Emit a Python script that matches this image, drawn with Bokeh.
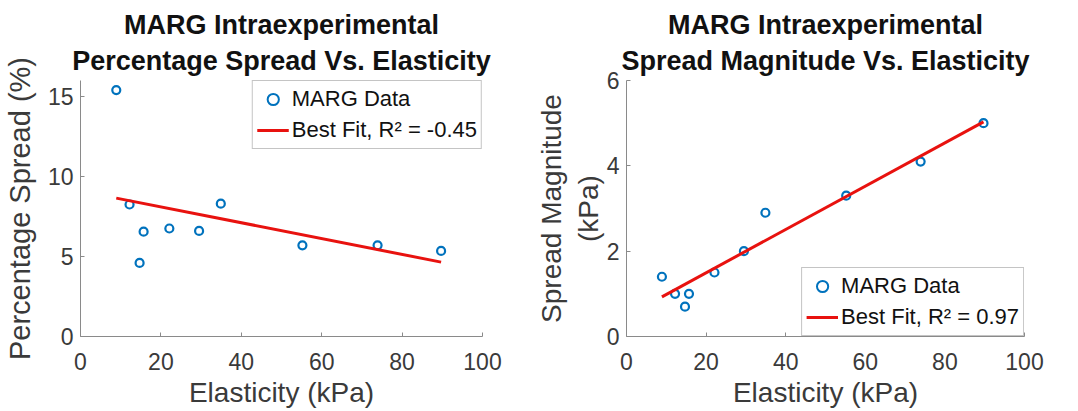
from bokeh.plotting import figure
from bokeh.layouts import row
from bokeh.models import Range1d, FixedTicker, Legend, LegendItem, Title
from bokeh.embed import file_html
from bokeh.resources import INLINE

# Data
elasticity = [8.9, 12.2, 14.7, 15.7, 22.1, 29.5, 34.9, 55.2, 73.9, 89.7]
pct_spread = [15.4, 8.25, 4.6, 6.55, 6.75, 6.6, 8.3, 5.7, 5.7, 5.35]
spread_mag = [1.4, 1.0, 0.7, 1.0, 1.5, 2.0, 2.9, 3.3, 4.1, 5.0]

fit1_x = [8.9, 89.7]
fit1_y = [8.65, 4.65]
fit2_x = [8.9, 89.7]
fit2_y = [0.93, 5.03]

x_ticks = [0, 20, 40, 60, 80, 100]
y1_ticks = [0, 5, 10, 15]
y2_ticks = [0, 2, 4, 6]

FONT = "Liberation Sans"
AXIS_COL = "#8a8a8a"
TEXT_COL = "#3a3a3a"
BLUE = "#0072BD"
RED = "#E8120F"
NAN = float("nan")


def make_fig(title1, title2, ylabel, yticks, yend, width, left, right, leg_loc,
             xs, ys, fx, fy, fit_label, ylab_standoff, ylab_size):
    p = figure(width=width, height=410, output_backend="svg",
               toolbar_location=None,
               x_range=Range1d(0, 100), y_range=Range1d(0, yend),
               min_border_left=left, min_border_right=right,
               min_border_top=80, min_border_bottom=70)
    for txt, so in ((title2, 9), (title1, 0)):
        t = Title(text=txt, align="center", text_font=FONT,
                  text_font_size="27px", text_font_style="bold",
                  text_color="#111111", standoff=so)
        p.add_layout(t, "above")
    p.outline_line_color = None
    p.xgrid.visible = False
    p.ygrid.visible = False
    for ax in (p.xaxis[0], p.yaxis[0]):
        ax.axis_line_color = AXIS_COL
        ax.major_tick_line_color = AXIS_COL
        ax.major_tick_in = 4
        ax.major_tick_out = 0
        ax.minor_tick_line_color = None
        ax.major_label_text_font = FONT
        ax.major_label_text_font_size = "23px"
        ax.major_label_text_color = TEXT_COL
        ax.axis_label_text_font = FONT
        ax.axis_label_text_font_size = "28px"
        ax.axis_label_text_font_style = "normal"
        ax.axis_label_text_color = TEXT_COL
        ax.axis_label_text_align = "center"
    p.yaxis.axis_label_text_font_size = ylab_size
    p.xaxis.ticker = FixedTicker(ticks=x_ticks)
    p.yaxis.ticker = FixedTicker(ticks=yticks)
    p.xaxis.axis_label = "Elasticity (kPa)"
    p.yaxis.axis_label = ylabel
    p.xaxis.major_label_standoff = 16
    p.yaxis.major_label_standoff = 7
    p.xaxis.axis_label_standoff = 4
    p.yaxis.axis_label_standoff = ylab_standoff

    sc = p.scatter(xs, ys, marker="circle", size=8, line_color=BLUE,
                   line_width=2.2, fill_color="white")
    # legend-only marker (smaller, as in the reference legend); no visible point
    leg_sc = p.scatter(x=[NAN], y=[NAN], marker="circle", size=6,
                       line_color=BLUE, line_width=2, fill_color="white")
    ln = p.line(fx, fy, line_color=RED, line_width=3)
    leg = Legend(items=[LegendItem(label="MARG Data", renderers=[leg_sc]),
                        LegendItem(label=fit_label, renderers=[ln])],
                 location=leg_loc)
    leg.label_text_font = FONT
    leg.label_text_font_size = "22px"
    leg.label_text_color = "#111111"
    leg.glyph_width = 32
    leg.glyph_height = 28
    leg.label_height = 28
    leg.label_standoff = 3
    leg.padding = 4
    leg.spacing = 3
    leg.margin = 0
    leg.border_line_color = "#8a8a8a"
    leg.border_line_width = 1
    leg.background_fill_color = "white"
    leg.background_fill_alpha = 1
    p.add_layout(leg)
    return p


p1 = make_fig("MARG Intraexperimental", "Percentage Spread Vs. Elasticity",
              "Percentage Spread (%)", y1_ticks, 16, 532, 79, 50, "top_right",
              elasticity, pct_spread, fit1_x, fit1_y, "Best Fit, R² = -0.45",
              9, "29px")
p2 = make_fig("MARG Intraexperimental", "Spread Magnitude Vs. Elasticity",
              "Spread Magnitude\n(kPa)", y2_ticks, 6, 538, 94, 46, "bottom_right",
              elasticity, spread_mag, fit2_x, fit2_y, "Best Fit, R² = 0.97",
              0, "28px")

layout = row(p1, p2)
open("out.html", "w").write(file_html(layout, INLINE))
